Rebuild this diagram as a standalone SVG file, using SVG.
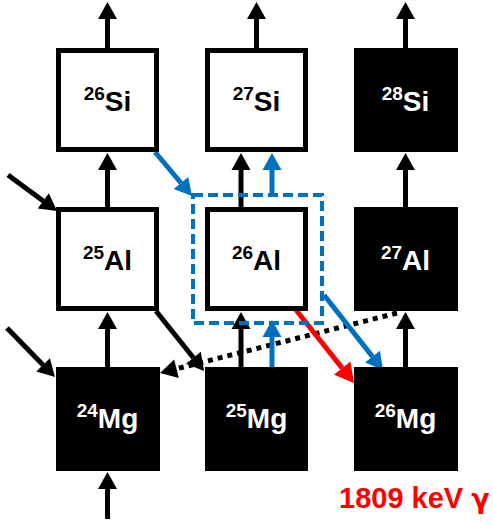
<svg xmlns="http://www.w3.org/2000/svg" width="493" height="523" viewBox="0 0 493 523">
<style>
.w{fill:#fff;stroke:#000;stroke-width:5}
.b{fill:#000}
.lbl{font-family:"Liberation Sans",Arial,sans-serif;font-weight:bold;text-anchor:middle}
.lw{fill:#000}
.lb{fill:#fff}
.sup{font-size:19px}
.main{font-size:28px}
.k{stroke:#000;stroke-width:5;fill:none}
.bl{stroke:#0070C0;stroke-width:5;fill:none}
.rd{stroke:#FF0000;stroke-width:5;fill:none}
.dot{stroke:#000;stroke-width:5;fill:none;stroke-dasharray:5 5}
</style>
<defs>
<marker id="ak" markerUnits="userSpaceOnUse" markerWidth="20" markerHeight="20" refX="0" refY="10" orient="auto" overflow="visible"><path d="M0,0.5 L17,10 L0,19.5 Z" fill="#000"/></marker>
<marker id="ab" markerUnits="userSpaceOnUse" markerWidth="20" markerHeight="20" refX="0" refY="10" orient="auto" overflow="visible"><path d="M0,0.5 L17,10 L0,19.5 Z" fill="#0070C0"/></marker>
<marker id="ar" markerUnits="userSpaceOnUse" markerWidth="22" markerHeight="22" refX="0" refY="11" orient="auto" overflow="visible"><path d="M0,0.5 L19,11 L0,21.5 Z" fill="#FF0000"/></marker>
</defs>

<g id="connectors">
<line class="k" x1="107.5" y1="48" x2="107.5" y2="19" marker-end="url(#ak)"/>
<line class="k" x1="256.5" y1="48" x2="256.5" y2="19" marker-end="url(#ak)"/>
<line class="k" x1="405.5" y1="48" x2="405.5" y2="19" marker-end="url(#ak)"/>
<line class="k" x1="107.5" y1="207" x2="107.5" y2="170" marker-end="url(#ak)"/>
<line class="k" x1="241" y1="207" x2="241" y2="170" marker-end="url(#ak)"/>
<line class="k" x1="405.5" y1="207" x2="405.5" y2="170" marker-end="url(#ak)"/>
<line class="k" x1="107.5" y1="367" x2="107.5" y2="329" marker-end="url(#ak)"/>
<line class="k" x1="241" y1="367" x2="241" y2="329" marker-end="url(#ak)"/>
<line class="k" x1="405.5" y1="367" x2="405.5" y2="329" marker-end="url(#ak)"/>
<line class="k" x1="107.5" y1="519" x2="107.5" y2="489" marker-end="url(#ak)"/>
<line class="k" x1="8" y1="175" x2="43.3" y2="200.9" marker-end="url(#ak)"/>
<line class="k" x1="7" y1="328" x2="43.1" y2="364.9" marker-end="url(#ak)"/>
<line class="k" x1="156" y1="311" x2="193.4" y2="357.7" marker-end="url(#ak)"/>
<line class="dot" x1="397" y1="313" x2="176.5" y2="368.8" marker-end="url(#ak)"/>
<line class="bl" x1="155" y1="152" x2="181" y2="183" marker-end="url(#ab)"/>
<line class="bl" x1="272" y1="195" x2="272" y2="170" marker-end="url(#ab)"/>
<line class="bl" x1="272" y1="368" x2="272" y2="337" marker-end="url(#ab)"/>
<line class="bl" x1="324" y1="295" x2="372.5" y2="356.6" marker-end="url(#ab)"/>
<line class="rd" x1="296" y1="310" x2="342.2" y2="368.1" marker-end="url(#ar)"/>
<rect x="193" y="195" width="129" height="128" fill="none" stroke="#0070C0" stroke-width="4" stroke-dasharray="10 5"/>
</g>

<g id="Si26"><rect class="w" x="58.5" y="50.5" width="98" height="99"/><text class="lbl lw" x="107.5" y="111"><tspan class="sup" dy="-11">26</tspan><tspan class="main" dy="11">Si</tspan></text></g>
<g id="Si27"><rect class="w" x="207.5" y="50.5" width="98" height="99"/><text class="lbl lw" x="256.5" y="111"><tspan class="sup" dy="-11">27</tspan><tspan class="main" dy="11">Si</tspan></text></g>
<g id="Si28"><rect class="b" x="354" y="48" width="104" height="104"/><text class="lbl lb" x="405.5" y="111"><tspan class="sup" dy="-11">28</tspan><tspan class="main" dy="11">Si</tspan></text></g>

<g id="Al25"><rect class="w" x="58.5" y="209.5" width="98" height="99"/><text class="lbl lw" x="107.5" y="270"><tspan class="sup" dy="-11">25</tspan><tspan class="main" dy="11">Al</tspan></text></g>
<g id="Al26"><rect class="w" x="207.5" y="209.5" width="98" height="99"/><text class="lbl lw" x="256.5" y="270"><tspan class="sup" dy="-11">26</tspan><tspan class="main" dy="11">Al</tspan></text></g>
<g id="Al27"><rect class="b" x="354" y="207" width="104" height="104"/><text class="lbl lb" x="405.5" y="270"><tspan class="sup" dy="-11">27</tspan><tspan class="main" dy="11">Al</tspan></text></g>

<g id="Mg24"><rect class="b" x="56" y="367" width="104" height="104"/><text class="lbl lb" x="107.5" y="428"><tspan class="sup" dy="-11">24</tspan><tspan class="main" dy="11">Mg</tspan></text></g>
<g id="Mg25"><rect class="b" x="205" y="367" width="103" height="104"/><text class="lbl lb" x="256.5" y="428"><tspan class="sup" dy="-11">25</tspan><tspan class="main" dy="11">Mg</tspan></text></g>
<g id="Mg26"><rect class="b" x="354" y="367" width="104" height="104"/><text class="lbl lb" x="405.5" y="428"><tspan class="sup" dy="-11">26</tspan><tspan class="main" dy="11">Mg</tspan></text></g>

<text id="gamma" x="339" y="508" font-family="'Liberation Sans',Arial,sans-serif" font-weight="bold" font-size="29" fill="#FF0000">1809 keV <tspan font-family="'DejaVu Sans',sans-serif" font-size="27">γ</tspan></text>
</svg>
